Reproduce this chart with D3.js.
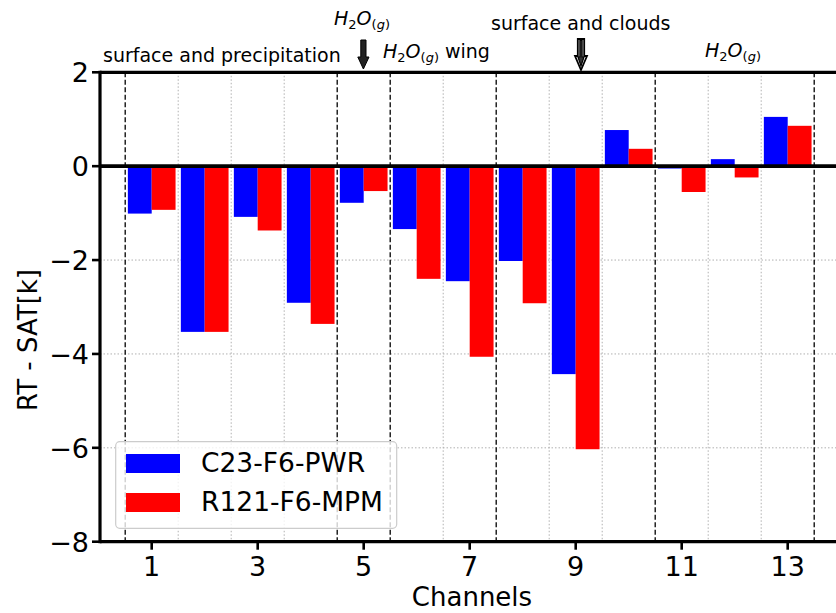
<!DOCTYPE html>
<html>
<head>
<meta charset="utf-8">
<script src="https://cdn.jsdelivr.net/npm/d3@7"></script>
<style>
  html, body { margin: 0; padding: 0; background: #fff; }
  svg { display: block; font-family: "DejaVu Sans", sans-serif; }
</style>
</head>
<body>
<svg id="chart" width="836" height="613"></svg>
<script>
// Channel numbers and brightness-temperature differences (RT - SAT, K)
const channels = [1, 2, 3, 4, 5, 6, 7, 8, 9, 10, 11, 12, 13];
const seriesNames = ["C23-F6-PWR", "R121-F6-MPM"];
const c23Values  = [-1.01, -3.53, -1.08, -2.91, -0.78, -1.34, -2.45, -2.02, -4.43, 0.77, -0.05, 0.15, 1.05];
const r121Values = [-0.93, -3.53, -1.37, -3.36, -0.53, -2.40, -4.06, -2.92, -6.03, 0.37, -0.55, -0.24, 0.86];
const seriesColors = ["#0000ff", "#ff0000"];
const xTickLabels = [1, 3, 5, 7, 9, 11, 13];
const yTickLabels = [-8, -6, -4, -2, 0, 2];
const bandDividers = [0.5, 4.5, 5.5, 7.5, 10.5, 13.5];
const gridX = [1.5, 2.5, 3.5, 6.5, 8.5, 9.5, 11.5, 12.5];

const svg = d3.select("#chart");
const W = 836;
const left = 100;
const x = d3.scaleLinear().domain([1, 13]).range([151.7, 787.7]);
const y = d3.scaleLinear().domain([-8, 2]).range([541.7, 72.3]);
const barW = 0.45;

// grid
const grid = svg.append("g");
grid.selectAll("line.gx").data(gridX).join("line")
  .attr("x1", d => x(d)).attr("x2", d => x(d))
  .attr("y1", y(2)).attr("y2", y(-8))
  .attr("stroke", "#b0b0b0").attr("stroke-width", 1).attr("stroke-dasharray", "1.5,2");
grid.selectAll("line.gy").data([-6, -4, -2]).join("line")
  .attr("x1", left).attr("x2", W)
  .attr("y1", d => y(d)).attr("y2", d => y(d))
  .attr("stroke", "#b0b0b0").attr("stroke-width", 1).attr("stroke-dasharray", "1.5,2");

// bars
const series = [c23Values, r121Values];
series.forEach((vals, si) => {
  svg.append("g").selectAll("rect").data(vals).join("rect")
    .attr("x", (d, i) => x(channels[i] + (si === 0 ? -barW : 0)))
    .attr("width", x(channels[0] + barW) - x(channels[0]))
    .attr("y", d => y(Math.max(0, d)))
    .attr("height", d => Math.abs(y(d) - y(0)))
    .attr("fill", seriesColors[si]);
});

// band dividers
svg.append("g").selectAll("line").data(bandDividers).join("line")
  .attr("x1", d => x(d)).attr("x2", d => x(d))
  .attr("y1", y(2)).attr("y2", y(-8))
  .attr("stroke", "#000").attr("stroke-width", 1.3).attr("stroke-dasharray", "5,2.5");

// zero line
svg.append("line")
  .attr("x1", left).attr("x2", W).attr("y1", y(0)).attr("y2", y(0))
  .attr("stroke", "#000").attr("stroke-width", 3.8);

// spines
svg.append("line").attr("x1", left).attr("x2", W).attr("y1", y(2)).attr("y2", y(2))
  .attr("stroke", "#000").attr("stroke-width", 3.2);
svg.append("line").attr("x1", left).attr("x2", W).attr("y1", y(-8)).attr("y2", y(-8))
  .attr("stroke", "#000").attr("stroke-width", 3.2);
svg.append("line").attr("x1", left).attr("x2", left).attr("y1", y(2) - 1.6).attr("y2", y(-8) + 1.6)
  .attr("stroke", "#000").attr("stroke-width", 3.2);

// y axis
const yAx = svg.append("g");
yAx.selectAll("line").data(yTickLabels).join("line")
  .attr("x1", left - 8).attr("x2", left).attr("y1", d => y(d)).attr("y2", d => y(d))
  .attr("stroke", "#000").attr("stroke-width", 2.6);
yAx.selectAll("text").data(yTickLabels).join("text")
  .attr("x", left - 11).attr("y", d => y(d) + 9.8)
  .attr("text-anchor", "end").attr("font-size", 27).attr("fill", "#000")
  .text(d => d < 0 ? "\u2212" + Math.abs(d) : String(d));

// x axis
const xAx = svg.append("g");
xAx.selectAll("line").data(xTickLabels).join("line")
  .attr("x1", d => x(d)).attr("x2", d => x(d)).attr("y1", y(-8)).attr("y2", y(-8) + 8)
  .attr("stroke", "#000").attr("stroke-width", 2.6);
xAx.selectAll("text").data(xTickLabels).join("text")
  .attr("x", d => x(d)).attr("y", 576)
  .attr("text-anchor", "middle").attr("font-size", 27).attr("fill", "#000")
  .text(d => String(d));

// axis titles
svg.append("text").attr("x", 472).attr("y", 606)
  .attr("text-anchor", "middle").attr("font-size", 26).text("Channels");
svg.append("text")
  .attr("transform", "translate(37,340) rotate(-90)")
  .attr("text-anchor", "middle").attr("font-size", 26).text("RT - SAT[k]");

// band annotations
function water(g, xPos, yPos, suffix) {
  const t = g.append("text").attr("x", xPos).attr("y", yPos).attr("font-size", 19);
  t.append("tspan").attr("font-style", "italic").text("H");
  t.append("tspan").attr("font-size", 13).attr("dy", 4).text("2");
  t.append("tspan").attr("font-style", "italic").attr("dy", -4).text("O");
  t.append("tspan").attr("font-size", 13).attr("dy", 4).text("(");
  t.append("tspan").attr("font-size", 13).attr("font-style", "italic").text("g");
  t.append("tspan").attr("font-size", 13).text(")");
  if (suffix) t.append("tspan").attr("dy", -4).text(suffix);
}
const ann = svg.append("g");
ann.append("text").attr("x", 103).attr("y", 62).attr("font-size", 19).text("surface and precipitation");
water(ann, 334, 25, null);
water(ann, 383, 58, " wing");
ann.append("text").attr("x", 491).attr("y", 30).attr("font-size", 19).text("surface and clouds");
water(ann, 705, 57, null);

// arrows
function arrowPath(cx, top, neck, tip, halfShaft, halfHead) {
  return `M${cx - halfShaft},${top} L${cx + halfShaft},${top} L${cx + halfShaft},${neck} ` +
         `L${cx + halfHead},${neck} L${cx},${tip} L${cx - halfHead},${neck} L${cx - halfShaft},${neck} Z`;
}
const a1 = x(5) - 0.3;
ann.append("path").attr("d", arrowPath(a1, 40, 57, 69, 2.6, 5.6))
  .attr("fill", "#222").attr("stroke", "#000").attr("stroke-width", 1);
const a2 = x(9.1);
ann.append("path").attr("d", arrowPath(a2, 39, 56, 70, 3.2, 6.0))
  .attr("fill", "#fff").attr("stroke", "#000").attr("stroke-width", 1.8);
ann.append("path").attr("d", arrowPath(a2, 40.5, 57, 66, 1.1, 3.0))
  .attr("fill", "#333").attr("stroke", "#000").attr("stroke-width", 1.2);

// legend
const lg = svg.append("g");
lg.append("rect").attr("x", 115.7).attr("y", 441.7).attr("width", 281).attr("height", 86.6)
  .attr("rx", 4).attr("fill", "#fff").attr("fill-opacity", 0.8)
  .attr("stroke", "#cccccc").attr("stroke-width", 1.2);
seriesNames.forEach((name, i) => {
  lg.append("rect").attr("x", 126).attr("y", 454 + i * 39).attr("width", 54).attr("height", 19)
    .attr("fill", seriesColors[i]);
  lg.append("text").attr("x", 201).attr("y", 472 + i * 39).attr("font-size", 26.5).text(name);
});
</script>
</body>
</html>
